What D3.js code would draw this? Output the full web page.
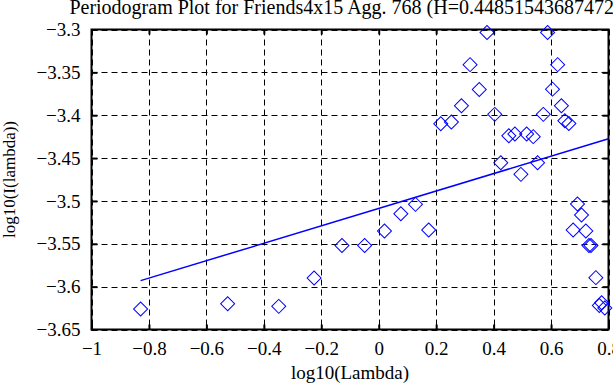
<!DOCTYPE html>
<html>
<head>
<meta charset="utf-8">
<script src="https://cdn.jsdelivr.net/npm/d3@7"></script>
<style>
  html, body { margin: 0; padding: 0; background: #fff; }
  svg { display: block; }
  text { font-family: "Liberation Serif", "Times New Roman", serif; fill: #000; }
</style>
</head>
<body>
<svg id="chart" width="613" height="385"></svg>
<script>
// ---- data ----
const logLambda = [-0.829, -0.526, -0.348, -0.225, -0.128, -0.049, 0.020, 0.077, 0.128, 0.174,
  0.216, 0.253, 0.288, 0.318, 0.350, 0.377, 0.404, 0.425, 0.453, 0.474,
  0.495, 0.515, 0.538, 0.553, 0.573, 0.588, 0.605, 0.623, 0.636, 0.648,
  0.662, 0.677, 0.692, 0.706, 0.721, 0.732, 0.739, 0.756, 0.768, 0.776, 0.787];
const logI = [-3.626, -3.620, -3.623, -3.590, -3.552, -3.552, -3.535, -3.515, -3.504, -3.534,
  -3.410, -3.408, -3.389, -3.341, -3.370, -3.3035, -3.399, -3.4555, -3.424, -3.422,
  -3.469, -3.422, -3.425, -3.4555, -3.399, -3.3035, -3.3696, -3.341, -3.389, -3.4065,
  -3.4096, -3.534, -3.5036, -3.5164, -3.535, -3.552, -3.552, -3.5895, -3.622, -3.6187, -3.625];
const fitX = [-0.829, 0.8];
const fitY = [-3.593, -3.4275];
const xTicks = [-1, -0.8, -0.6, -0.4, -0.2, 0, 0.2, 0.4, 0.6, 0.8];
const xTickLabels = ["\u22121", "\u22120.8", "\u22120.6", "\u22120.4", "\u22120.2", "0", "0.2", "0.4", "0.6", "0.8"];
const yTicks = [-3.3, -3.35, -3.4, -3.45, -3.5, -3.55, -3.6, -3.65];
const yTickLabels = ["\u22123.3", "\u22123.35", "\u22123.4", "\u22123.45", "\u22123.5", "\u22123.55", "\u22123.6", "\u22123.65"];
const titleText = "Periodogram Plot for Friends4x15 Agg. 768 (H=0.448515436874724)";
const xLabel = "log10(Lambda)";
const yLabel = "log10(I(lambda))";

// ---- layout ----
const L = 91.5, R = 608.5, T = 29.5, B = 329.5;
const svg = d3.select("#chart");
const x = d3.scaleLinear().domain([-1, 0.8]).range([L, R]);
const y = d3.scaleLinear().domain([-3.65, -3.3]).range([B, T]);

// grid
const grid = svg.append("g").attr("stroke", "#000").attr("stroke-width", 1).attr("stroke-dasharray", "6,4");
grid.selectAll("line.v").data(xTicks).join("line")
  .attr("x1", d => Math.round(x(d)) + 0.5).attr("x2", d => Math.round(x(d)) + 0.5)
  .attr("y1", T).attr("y2", B);
grid.selectAll("line.h").data(yTicks).join("line")
  .attr("y1", d => Math.round(y(d)) + 0.5).attr("y2", d => Math.round(y(d)) + 0.5)
  .attr("x1", L).attr("x2", R);

const fs = 19;
// axes
const fmtX = (d, i) => xTickLabels[i];
const fmtY = (d, i) => yTickLabels[i];
const gB = svg.append("g").attr("transform", `translate(0,${B})`)
  .call(d3.axisBottom(x).tickValues(xTicks).tickFormat(fmtX).tickSize(-5).tickPadding(12));
const gT = svg.append("g").attr("transform", `translate(0,${T})`)
  .call(d3.axisTop(x).tickValues(xTicks).tickFormat("").tickSize(-5));
const gL = svg.append("g").attr("transform", `translate(${L},0)`)
  .call(d3.axisLeft(y).tickValues(yTicks).tickFormat(fmtY).tickSize(-6).tickPadding(11));
const gR = svg.append("g").attr("transform", `translate(${R},0)`)
  .call(d3.axisRight(y).tickValues(yTicks).tickFormat("").tickSize(-6));
[gB, gT, gL, gR].forEach(g => {
  g.select(".domain").remove();
  g.selectAll(".tick line").attr("stroke", "#000").attr("stroke-width", 2);
  g.selectAll("text").attr("font-family", "Liberation Serif").attr("font-size", fs).attr("fill", "#000");
});

// frame
svg.append("rect").attr("x", L).attr("y", T).attr("width", R - L).attr("height", B - T)
  .attr("fill", "none").attr("stroke", "#000").attr("stroke-width", 2);

// fit line
svg.append("path")
  .datum(fitX.map((d, i) => [d, fitY[i]]))
  .attr("d", d3.line().x(d => x(d[0])).y(d => y(d[1])))
  .attr("fill", "none").attr("stroke", "#0000ff").attr("stroke-width", 1.5);

// diamonds
const sym = d3.symbol().type(d3.symbolSquare).size(98);
svg.append("g").selectAll("path").data(logLambda.map((d, i) => [d, logI[i]])).join("path")
  .attr("d", sym)
  .attr("transform", d => `translate(${x(d[0])},${y(d[1])}) rotate(45)`)
  .attr("fill", "none").attr("stroke", "#0000ff").attr("stroke-width", 1);

// title and labels
svg.append("text").attr("x", (L + R) / 2).attr("y", 14).attr("text-anchor", "middle")
  .attr("font-size", 20).text(titleText);
svg.append("text").attr("x", (L + R) / 2).attr("y", 379).attr("text-anchor", "middle")
  .attr("font-size", fs).text(xLabel);
svg.append("text").attr("transform", `translate(15,${(T + B) / 2}) rotate(-90)`)
  .attr("text-anchor", "middle").attr("font-size", 17).text(yLabel);
</script>
</body>
</html>
